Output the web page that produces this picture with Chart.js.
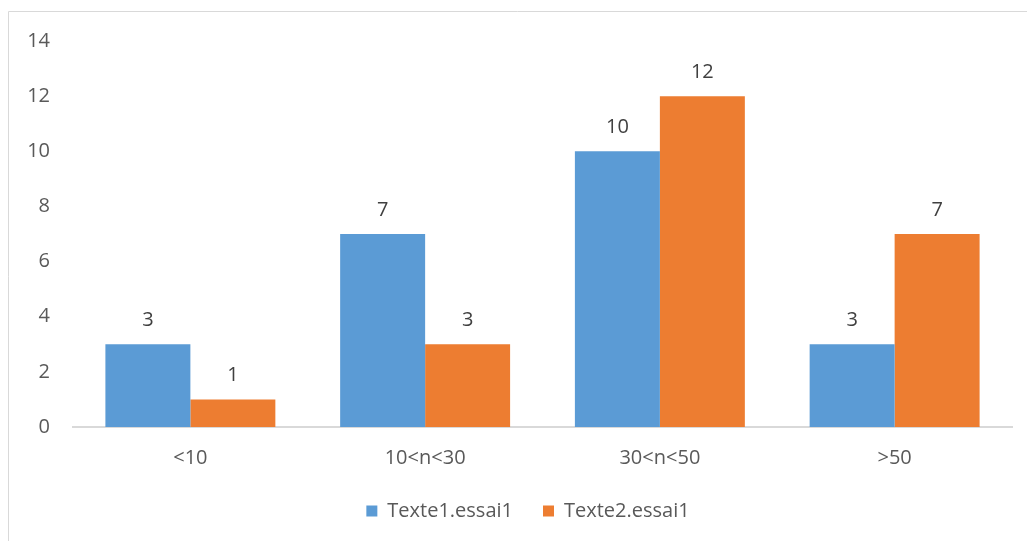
<!DOCTYPE html>
<html>
<head>
<meta charset="utf-8">
<script src="https://cdn.jsdelivr.net/npm/chart.js@4"></script>
<style>
  html, body { margin: 0; padding: 0; background: #fff; }
  #wrap { position: relative; width: 1027px; height: 541px; }
</style>
</head>
<body>
<div id="wrap"><canvas id="myChart" width="1027" height="541"></canvas></div>
<script>
const categories = ['<10', '10<n<30', '30<n<50', '>50'];
const texte1 = [3, 7, 10, 3];
const texte2 = [1, 3, 12, 7];
const yTicks = [0, 2, 4, 6, 8, 10, 12, 14];

const FONT = "'Open Sans', sans-serif";

// valeurs au-dessus des barres
const barLabels = {
    id: 'barLabels',
    afterDatasetsDraw(chart) {
        const ctx = chart.ctx;
        ctx.save();
        ctx.font = '20px ' + FONT;
        ctx.fillStyle = '#404040';
        ctx.textAlign = 'center';
        ctx.textBaseline = 'middle';
        chart.data.datasets.forEach((ds, i) => {
            chart.getDatasetMeta(i).data.forEach((bar, j) => {
                ctx.fillText(String(ds.data[j]), bar.x, bar.y - 24);
            });
        });
        ctx.restore();
    }
};

// cadre gris (haut et gauche visibles)
const frame = {
    id: 'frame',
    beforeDraw(chart) {
        const ctx = chart.ctx;
        ctx.save();
        ctx.strokeStyle = '#d9d9d9';
        ctx.lineWidth = 1;
        ctx.beginPath();
        ctx.moveTo(8.5, chart.height);
        ctx.lineTo(8.5, 11.5);
        ctx.lineTo(chart.width, 11.5);
        ctx.stroke();
        ctx.restore();
    }
};

// légende un peu décalée vers la droite, comme dans Excel
const legendShift = {
    id: 'legendShift',
    afterLayout(chart) {
        if (chart.legend) {
            chart.legend.left += 22;
            chart.legend.right += 22;
        }
    }
};

const ctx = document.getElementById('myChart').getContext('2d');
new Chart(ctx, {
    type: 'bar',
    data: {
        labels: categories,
        datasets: [{
            label: 'Texte1.essai1',
            data: texte1,
            backgroundColor: '#5B9BD5',
            borderWidth: 0
        }, {
            label: 'Texte2.essai1',
            data: texte2,
            backgroundColor: '#ED7D31',
            borderWidth: 0
        }]
    },
    options: {
        responsive: false,
        animation: false,
        devicePixelRatio: 1,
        layout: { padding: { left: 0, right: 15, top: 41, bottom: 10 } },
        datasets: {
            bar: { categoryPercentage: 0.724, barPercentage: 1.0 }
        },
        scales: {
            x: {
                grid: { display: false, drawTicks: false },
                border: { display: true, color: '#d9d9d9', width: 2 },
                ticks: { color: '#595959', font: { family: FONT, size: 20 }, padding: 19 },
                afterFit(scale) { scale.height = 44; }
            },
            y: {
                min: 0,
                max: 14,
                grid: { display: false, drawTicks: false },
                border: { display: false },
                afterBuildTicks(scale) { scale.ticks = yTicks.map(v => ({ value: v })); },
                ticks: { color: '#595959', font: { family: FONT, size: 20 }, padding: 23 },
                afterFit(scale) { scale.width = 73; }
            }
        },
        plugins: {
            legend: {
                position: 'bottom',
                labels: {
                    color: '#595959',
                    font: { family: FONT, size: 20 },
                    boxWidth: 11,
                    boxHeight: 11,
                    padding: 30
                }
            },
            tooltip: { enabled: false }
        }
    },
    plugins: [barLabels, frame, legendShift]
});
</script>
</body>
</html>
